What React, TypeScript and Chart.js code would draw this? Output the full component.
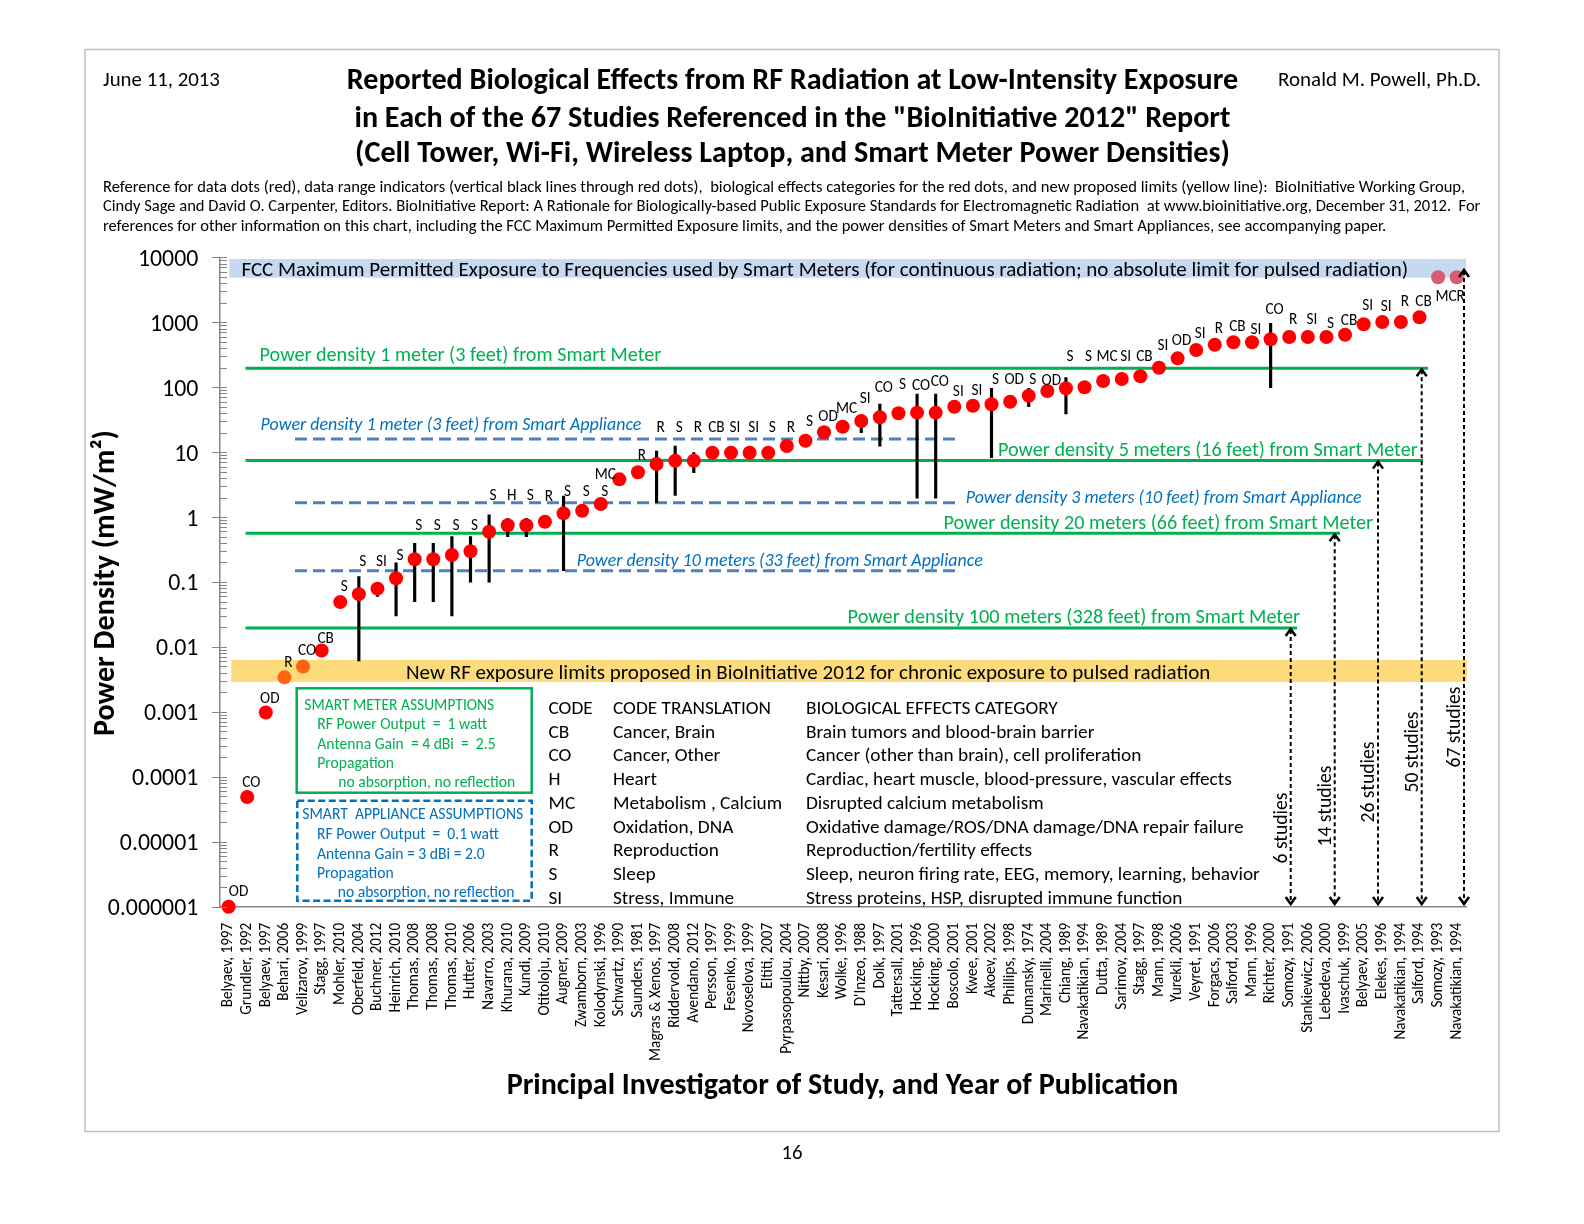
import React, { useEffect, useRef } from "react";
import { Chart, registerables } from "chart.js";

Chart.register(...registerables);

const FONT = "Carlito, Lato, 'Noto Sans', sans-serif";
const W = 1584;
const H = 1224;

// ---------------- DATA ----------------
const STUDIES = [
  "Belyaev, 1997", "Grundler, 1992", "Belyaev, 1997", "Behari, 2006", "Velizarov, 1999",
  "Stagg, 1997", "Mohler, 2010", "Oberfeld, 2004", "Buchner, 2012", "Heinrich, 2010",
  "Thomas, 2008", "Thomas, 2008", "Thomas, 2010", "Hutter, 2006", "Navarro, 2003",
  "Khurana, 2010", "Kundi, 2009", "Otitoloju, 2010", "Augner, 2009", "Zwamborn, 2003",
  "Kolodynski, 1996", "Schwartz, 1990", "Saunders, 1981", "Magras & Xenos, 1997", "Riddervold, 2008",
  "Avendano, 2012", "Persson, 1997", "Fesenko, 1999", "Novoselova, 1999", "Eltiti, 2007",
  "Pyrpasopoulou, 2004", "Nittby, 2007", "Kesari, 2008", "Wolke, 1996", "D'Inzeo, 1988",
  "Dolk, 1997", "Tattersall, 2001", "Hocking, 1996", "Hocking, 2000", "Boscolo, 2001",
  "Kwee, 2001", "Akoev, 2002", "Phillips, 1998", "Dumansky, 1974", "Marinelli, 2004",
  "Chiang, 1989", "Navakatikian, 1994", "Dutta, 1989", "Sarimov, 2004", "Stagg, 1997",
  "Mann, 1998", "Yurekli, 2006", "Veyret, 1991", "Forgacs, 2006", "Salford, 2003",
  "Mann, 1996", "Richter, 2000", "Somozy, 1991", "Stankiewicz, 2006", "Lebedeva, 2000",
  "Ivaschuk, 1999", "Belyaev, 2005", "Elekes, 1996", "Navakatikian, 1994", "Salford, 1994",
  "Somozy, 1993", "Navakatikian, 1994",
];

const POWER_DENSITY = [
  1e-6, 4.9e-5, 9.8e-4, 0.0034, 0.005, 0.0088, 0.049, 0.065, 0.079, 0.114,
  0.224, 0.224, 0.26, 0.297, 0.595, 0.746, 0.746, 0.847, 1.14, 1.25,
  1.59, 3.81, 4.89, 6.56, 7.38, 7.38, 9.8, 9.8, 9.8, 9.8,
  12.4, 15.0, 20.2, 24.6, 30.1, 34.4, 39.6, 40.5, 40.5, 50,
  51.9, 54.5, 59.7, 73.9, 87.3, 96.1, 99.6, 124.5, 133.6, 147,
  199.6, 278, 374, 451, 491, 491, 546, 592, 592, 592,
  643, 929, 1009, 1009, 1191, 4920, 4920,
];

const RANGE_LOW = [
  null, null, null, null, null, null, null, 0.0061, 0.06, 0.03,
  0.0497, 0.0497, 0.03, 0.099, 0.099, 0.5, 0.5, null, 0.149, null,
  null, null, null, 1.66, 2.16, 4.82, null, null, null, null,
  null, null, null, null, 19.9, 12.4, null, 1.95, 1.95, null,
  null, 8.2, null, 50, null, 38.6, null, null, null, null,
  null, null, null, null, null, null, 98.2, null, null, null,
  null, null, null, null, null, null, null,
];

const RANGE_HIGH = [
  null, null, null, null, null, null, null, 0.121, 0.079, 0.198,
  0.394, 0.394, 0.5, 0.5, 1.08, 0.96, 0.96, null, 2.11, null,
  null, null, null, 10.4, 12.4, 9.8, null, null, null, null,
  null, null, null, null, 37.3, 55.1, null, 78.5, 78.5, null,
  null, 96, null, 96, null, 140, null, null, null, null,
  null, null, null, null, null, null, 963, null, null, null,
  null, null, null, null, null, null, null,
];

const EFFECT_CODES = [
  "OD", "CO", "OD", "R", "CO", "CB", "S", "S", "SI", "S",
  "S", "S", "S", "S", "S", "H", "S", "R", "S", "S",
  "S", "MC", "R", "R", "S", "R", "CB", "SI", "SI", "S",
  "R", "S", "OD", "MC", "SI", "CO", "S", "CO", "CO", "SI",
  "SI", "S", "OD", "S", "OD", "S", "S", "MC", "SI", "CB",
  "SI", "OD", "SI", "R", "CB", "SI", "CO", "R", "SI", "S",
  "CB", "SI", "SI", "R", "CB", "MC", "R",
];

// value level at which each effect-code label sits
const CODE_LABEL_LEVELS = [
  1.81e-6, 8.6e-5, 1.69e-3, 6.1e-3, 9.3e-3, 0.0141, 0.09, 0.213, 0.218, 0.27,
  0.78, 0.78, 0.78, 0.78, 2.26, 2.26, 2.26, 2.19, 2.61, 2.61,
  2.61, 4.82, 9.35, 25.2, 25.2, 25.2, 25.2, 25.2, 25.2, 25.2,
  25.2, 31.2, 37.3, 50, 71.3, 105, 117, 111, 129, 90.5,
  92.7, 137, 137, 137, 132, 308, 308, 308, 308, 308,
  462, 552, 715, 853, 885, 824, 1640, 1150, 1150, 984,
  1110, 1890, 1820, 2150, 2200, 2630, 2630,
];

const Y_TICKS = [10000, 1000, 100, 10, 1, 0.1, 0.01, 0.001, 0.0001, 0.00001, 0.000001];
const Y_TICK_LABELS = ["10000", "1000", "100", "10", "1", "0.1", "0.01", "0.001", "0.0001", "0.00001", "0.000001"];

const FCC_BAND = [4850, 9400];
const BIOINITIATIVE_BAND = [0.0029, 0.0063];

const METER_LINE_LABELS = [
  "Power density 1 meter (3 feet) from Smart Meter",
  "Power density 5 meters (16 feet) from Smart Meter",
  "Power density 20 meters (66 feet) from Smart Meter",
  "Power density 100 meters (328 feet) from Smart Meter",
];
const METER_LEVELS = [195, 7.4, 0.562, 0.0196];

const APPLIANCE_LINE_LABELS = [
  "Power density 1 meter (3 feet) from Smart Appliance",
  "Power density 3 meters (10 feet) from Smart Appliance",
  "Power density 10 meters (33 feet) from Smart Appliance",
];
const APPLIANCE_LEVELS = [15.9, 1.66, 0.149];

const STUDY_COUNT_LABELS = ["6 studies", "14 studies", "26 studies", "50 studies", "67 studies"];
const STUDY_COUNT_LEVELS = [0.0196, 0.562, 7.4, 195, 6600];

const TABLE_CODES = ["CODE", "CB", "CO", "H", "MC", "OD", "R", "S", "SI"];
const TABLE_TRANSLATIONS = ["CODE TRANSLATION", "Cancer, Brain", "Cancer, Other", "Heart", "Metabolism , Calcium", "Oxidation, DNA", "Reproduction", "Sleep", "Stress, Immune"];
const TABLE_CATEGORIES = [
  "BIOLOGICAL EFFECTS CATEGORY",
  "Brain tumors and blood-brain barrier",
  "Cancer (other than brain), cell proliferation",
  "Cardiac, heart muscle, blood-pressure, vascular effects",
  "Disrupted calcium metabolism",
  "Oxidative damage/ROS/DNA damage/DNA repair failure",
  "Reproduction/fertility effects",
  "Sleep, neuron firing rate, EEG, memory, learning, behavior",
  "Stress proteins, HSP, disrupted immune function",
];

const METER_BOX_LINES = ["SMART METER ASSUMPTIONS", "RF Power Output  =  1 watt", "Antenna Gain  = 4 dBi  =  2.5", "Propagation", "no absorption, no reflection"];
const APPLIANCE_BOX_LINES = ["SMART  APPLIANCE ASSUMPTIONS", "RF Power Output  =  0.1 watt", "Antenna Gain = 3 dBi = 2.0", "Propagation", "no absorption, no reflection"];

const TITLE_LINES = [
  "Reported Biological Effects from RF Radiation at Low-Intensity Exposure",
  "in Each of the 67 Studies Referenced in the \"BioInitiative 2012\" Report",
  "(Cell Tower, Wi-Fi, Wireless Laptop, and Smart Meter Power Densities)",
];
const REFERENCE_LINES = [
  "Reference for data dots (red), data range indicators (vertical black lines through red dots),  biological effects categories for the red dots, and new proposed limits (yellow line):  BioInitiative Working Group,",
  "Cindy Sage and David O. Carpenter, Editors. BioInitiative Report: A Rationale for Biologically-based Public Exposure Standards for Electromagnetic Radiation  at www.bioinitiative.org, December 31, 2012.  For",
  "references for other information on this chart, including the FCC Maximum Permitted Exposure limits, and the power densities of Smart Meters and Smart Appliances, see accompanying paper.",
];
const DATE_TEXT = "June 11, 2013";
const AUTHOR_TEXT = "Ronald M. Powell, Ph.D.";
const Y_TITLE = "Power Density (mW/m\u00B2)";
const X_TITLE = "Principal Investigator of Study, and Year of Publication";
const FCC_TEXT = "FCC Maximum Permitted Exposure to Frequencies used by Smart Meters (for continuous radiation; no absolute limit for pulsed radiation)";
const BIOINITIATIVE_TEXT = "New RF exposure limits proposed in BioInitiative 2012 for chronic exposure to pulsed radiation";
const PAGE_NUMBER = "16";

// ---------------- STYLE / LAYOUT ----------------
const GREEN = "#00b050";
const BLUE_TEXT = "#0070c0";
const BLUE_LINE = "#4f81bd";
const AXIS_GRAY = "#868686";
const AREA = { left: 219.3, right: 1466, top: 257.3, bottom: 906.7 };
const TEXT_DY = 2;

function fitSize(ctx, text, width, weight = "normal", style = "normal") {
  ctx.save();
  ctx.font = `${style} ${weight} 100px ${FONT}`;
  const w = ctx.measureText(text).width;
  ctx.restore();
  return (100 * width) / w;
}

function textFit(ctx, text, x, y, width, o: any = {}) {
  const size = o.size || fitSize(ctx, text, width, o.weight || "normal", o.style || "normal");
  ctx.save();
  ctx.font = `${o.style || "normal"} ${o.weight || "normal"} ${size}px ${FONT}`;
  ctx.fillStyle = o.color || "#000";
  ctx.textAlign = o.align || "left";
  ctx.textBaseline = "middle";
  if (o.rotate) {
    ctx.translate(x + TEXT_DY, y);
    ctx.rotate(o.rotate);
  } else {
    ctx.translate(x, y + TEXT_DY);
  }
  ctx.fillText(text, 0, 0);
  ctx.restore();
}

function drawArrow(ctx, x, yTop, yBottom) {
  ctx.save();
  ctx.strokeStyle = "#000";
  ctx.lineWidth = 2;
  ctx.setLineDash([4, 3]);
  ctx.beginPath();
  ctx.moveTo(x, yTop + 2);
  ctx.lineTo(x, yBottom - 2);
  ctx.stroke();
  ctx.setLineDash([]);
  ctx.lineWidth = 2.5;
  ctx.beginPath();
  ctx.moveTo(x - 5, yTop + 8);
  ctx.lineTo(x, yTop + 1);
  ctx.lineTo(x + 5, yTop + 8);
  ctx.moveTo(x - 5, yBottom - 8);
  ctx.lineTo(x, yBottom - 1);
  ctx.lineTo(x + 5, yBottom - 8);
  ctx.stroke();
  ctx.restore();
}

const overlayPlugin = {
  id: "overlay",
  beforeDatasetsDraw(chart) {
    const { ctx, chartArea: a } = chart;
    const Y = (v) => chart.scales.y.getPixelForValue(v);
    ctx.save();
    // FCC band
    ctx.fillStyle = "#c6d9f1";
    ctx.fillRect(a.left + 10, Y(FCC_BAND[1]), a.right - a.left - 10, Y(FCC_BAND[0]) - Y(FCC_BAND[1]));
    textFit(ctx, FCC_TEXT, 241.4, 268.7, 1167.6);
    // BioInitiative band
    ctx.fillStyle = "#fdda7a";
    ctx.fillRect(a.left + 12, Y(BIOINITIATIVE_BAND[1]), a.right - a.left - 11, Y(BIOINITIATIVE_BAND[0]) - Y(BIOINITIATIVE_BAND[1]));
    textFit(ctx, BIOINITIATIVE_TEXT, 406, 672, 805);

    // Smart meter lines
    const meterEnds = [1428, 1423, 1340, 1297];
    const meterLabelPos = [[259.6, 353.6, 402], [998, 448.5, 420], [943.5, 522.3, 430], [847.6, 616.2, 452.6]];
    ctx.strokeStyle = GREEN;
    ctx.lineWidth = 3;
    METER_LEVELS.forEach((v, i) => {
      ctx.beginPath();
      ctx.moveTo(245.5, Y(v));
      ctx.lineTo(meterEnds[i], Y(v));
      ctx.stroke();
      const p = meterLabelPos[i];
      textFit(ctx, METER_LINE_LABELS[i], p[0], p[1], p[2], { color: GREEN });
    });

    // Smart appliance lines
    const appLabelPos = [[260.6, 423.3, 381], [965.8, 497, 396], [576.8, 559.7, 406]];
    ctx.strokeStyle = BLUE_LINE;
    ctx.lineWidth = 3;
    ctx.setLineDash([12, 6]);
    APPLIANCE_LEVELS.forEach((v) => {
      ctx.beginPath();
      ctx.moveTo(295, Y(v));
      ctx.lineTo(960, Y(v));
      ctx.stroke();
    });
    ctx.setLineDash([]);
    APPLIANCE_LEVELS.forEach((v, i) => {
      const p = appLabelPos[i];
      textFit(ctx, APPLIANCE_LINE_LABELS[i], p[0], p[1], p[2], { color: BLUE_TEXT, style: "italic" });
    });
    ctx.restore();
  },
  afterDatasetsDraw(chart) {
    const { ctx, chartArea: a } = chart;
    const X = (i) => chart.scales.x.getPixelForValue(i);
    const Y = (v) => chart.scales.y.getPixelForValue(v);
    ctx.save();

    // y-axis tick marks
    ctx.strokeStyle = AXIS_GRAY;
    ctx.lineWidth = 1.2;
    ctx.beginPath();
    for (let d = -6; d <= 4; d++) {
      const yy = Math.round(Y(Math.pow(10, d))) + 0.5;
      ctx.moveTo(212, yy);
      ctx.lineTo(227, yy);
      if (d < 4) {
        for (let m = 2; m <= 9; m++) {
          const ym = Math.round(Y(m * Math.pow(10, d))) + 0.5;
          ctx.moveTo(a.left, ym);
          ctx.lineTo(227, ym);
        }
      }
    }
    ctx.stroke();

    // effect code labels
    const codeSize = fitSize(ctx, "OD", 19.5);
    EFFECT_CODES.forEach((c, i) => {
      const dx = i === 21 ? -14 : i === 0 ? 10 : i === 65 ? 8 : 4;
      textFit(ctx, c, X(i) + dx, Y(CODE_LABEL_LEVELS[i]), 0, { size: codeSize, align: "center" });
    });

    // arrows with study counts
    const arrowX = [1290.7, 1334.7, 1378, 1421.7, 1464];
    const arrowLabelY = [828, 806, 782, 752, 727];
    const countSize = fitSize(ctx, "14 studies", 81);
    STUDY_COUNT_LEVELS.forEach((v, i) => {
      drawArrow(ctx, arrowX[i], Y(v), 905);
      textFit(ctx, STUDY_COUNT_LABELS[i], arrowX[i] - 11, arrowLabelY[i], 0, { size: countSize, align: "center", rotate: -Math.PI / 2 });
    });

    // assumption boxes
    ctx.strokeStyle = GREEN;
    ctx.lineWidth = 2.5;
    ctx.strokeRect(296.7, 688.3, 235, 104.4);
    ctx.strokeStyle = BLUE_TEXT;
    ctx.setLineDash([7, 3.5]);
    ctx.strokeRect(297.3, 800.7, 234.4, 100);
    ctx.setLineDash([]);
    const meterBox = [[304.3, 704, 190], [317.3, 723.3, 166], [317.3, 742.7, 175], [317.3, 762.3, 77], [338.3, 781, 177]];
    const appBox = [[302.3, 812.7, 221], [317, 833.3, 176], [317, 852.7, 169], [317, 872.3, 76], [337.7, 891, 177]];
    const boxSize = fitSize(ctx, "no absorption, no reflection", 177);
    METER_BOX_LINES.forEach((t, i) => {
      const p = meterBox[i];
      textFit(ctx, t, p[0], p[1], p[2], { color: GREEN, size: i === 0 ? fitSize(ctx, t, p[2]) : boxSize });
    });
    APPLIANCE_BOX_LINES.forEach((t, i) => {
      const p = appBox[i];
      textFit(ctx, t, p[0], p[1], p[2], { color: BLUE_TEXT, size: i === 0 ? fitSize(ctx, t, p[2]) : boxSize });
    });

    // code table
    const tableSize = fitSize(ctx, TABLE_CATEGORIES[7], 454);
    TABLE_CODES.forEach((c, i) => {
      const yy = 707 + i * 23.75;
      textFit(ctx, c, 548.5, yy, 0, { size: tableSize });
      textFit(ctx, TABLE_TRANSLATIONS[i], 613, yy, 0, { size: tableSize });
      textFit(ctx, TABLE_CATEGORIES[i], 806, yy, 0, { size: tableSize });
    });
    ctx.restore();
  },
  afterDraw(chart) {
    const { ctx } = chart;
    ctx.save();
    // page frame
    ctx.strokeStyle = "#c0c0c0";
    ctx.lineWidth = 1.5;
    ctx.strokeRect(85, 49.5, 1414, 1082);
    // header
    textFit(ctx, DATE_TEXT, 103, 79, 117);
    textFit(ctx, AUTHOR_TEXT, 1278, 79, 203);
    const titleWidths = [892, 876, 875];
    const titleY = [79, 117, 152.5];
    TITLE_LINES.forEach((t, i) => textFit(ctx, t, 792.5, titleY[i], titleWidths[i], { weight: "bold", align: "center" }));
    const refWidths = [1363, 1378, 1285];
    const refY = [186, 205, 225];
    REFERENCE_LINES.forEach((t, i) => textFit(ctx, t, 103, refY[i], refWidths[i]));
    // axis titles
    textFit(ctx, Y_TITLE, 104, 583, 306, { weight: "bold", align: "center", rotate: -Math.PI / 2 });
    textFit(ctx, X_TITLE, 842.5, 1084, 672, { weight: "bold", align: "center" });
    textFit(ctx, PAGE_NUMBER, 792, 1152, 21, { align: "center" });
    ctx.restore();
  },
};

const YELLOW_DOT = "#ff6414";
const FCC_DOT = "#da5a72";
function dotColor(v) {
  if (v >= BIOINITIATIVE_BAND[0] && v <= BIOINITIATIVE_BAND[1]) return YELLOW_DOT;
  if (v >= FCC_BAND[0]) return FCC_DOT;
  return "#ff0000";
}

export default function App() {
  const ref = useRef<HTMLCanvasElement>(null);
  useEffect(() => {
    const canvas = ref.current;
    if (!canvas) return;
    const ctx = canvas.getContext("2d");
    const xFont = fitSize(ctx, "Navakatikian, 1994", 117);
    const yFont = fitSize(ctx, "0.000001", 90.6);
    const chart = new Chart(canvas, {
      type: "line",
      data: {
        labels: STUDIES,
        datasets: [
          {
            type: "line",
            label: "Reported effect",
            data: POWER_DENSITY,
            showLine: false,
            pointRadius: 7,
            pointHoverRadius: 7,
            pointBorderWidth: 0,
            pointBackgroundColor: (c) => dotColor(c.raw),
            borderColor: "rgba(0,0,0,0)",
            order: 0,
            clip: false,
          } as any,
          {
            type: "bar",
            label: "Data range",
            data: RANGE_LOW.map((lo, i) => (lo == null ? null : [lo, RANGE_HIGH[i]])),
            backgroundColor: "#000",
            borderWidth: 0,
            barThickness: 2.5,
            order: 1,
          } as any,
        ],
      },
      options: {
        responsive: false,
        animation: false,
        devicePixelRatio: 1,
        events: [],
        layout: { padding: { left: 0, right: W - AREA.right, top: AREA.top, bottom: 0 } },
        plugins: { legend: { display: false }, tooltip: { enabled: false }, title: { display: false } },
        scales: {
          x: {
            type: "category",
            offset: true,
            grid: { display: false },
            border: { display: true, color: AXIS_GRAY, width: 1.5 },
            ticks: {
              autoSkip: false,
              minRotation: 90,
              maxRotation: 90,
              padding: 8,
              color: "#000",
              font: { family: FONT, size: xFont },
            },
            afterFit: (s) => {
              s.height = H - AREA.bottom;
            },
          },
          y: {
            type: "logarithmic",
            min: 1e-6,
            max: 1e4,
            grid: { display: false },
            border: { display: true, color: AXIS_GRAY, width: 1.5 },
            ticks: {
              padding: 13,
              labelOffset: 2.5,
              color: "#000",
              font: { family: FONT, size: yFont },
              callback: (v) => {
                const i = Y_TICKS.findIndex((t) => Math.abs(t - Number(v)) / t < 1e-6);
                return i >= 0 ? Y_TICK_LABELS[i] : "";
              },
            },
            afterBuildTicks: (s) => {
              s.ticks = Y_TICKS.map((v) => ({ value: v }));
            },
            afterFit: (s) => {
              s.width = AREA.left;
            },
          },
        },
      } as any,
      plugins: [overlayPlugin],
    } as any);
    return () => chart.destroy();
  }, []);
  return (
    <div style={{ position: "absolute", left: 0, top: 0, width: W, height: H, background: "#fff" }}>
      <canvas ref={ref} width={W} height={H} style={{ display: "block", width: W, height: H }} />
    </div>
  );
}
